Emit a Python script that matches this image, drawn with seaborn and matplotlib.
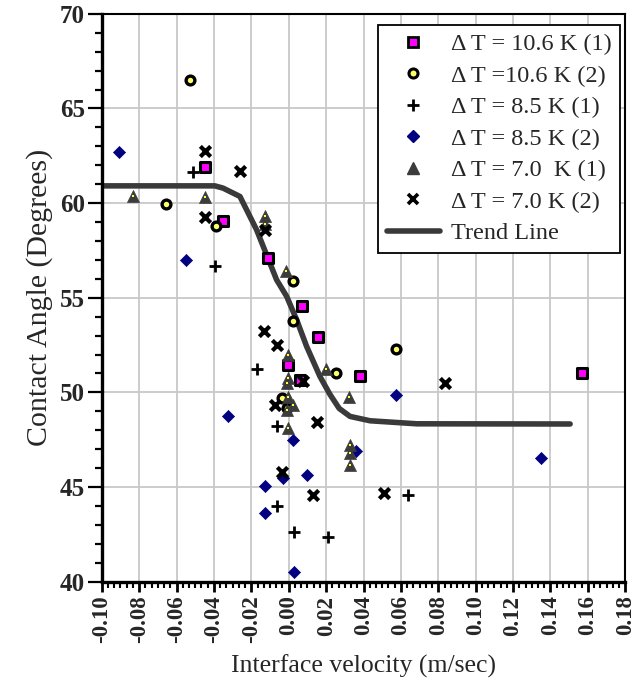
import matplotlib
matplotlib.use("Agg")
import matplotlib.pyplot as plt
import seaborn as sns
import pandas as pd
from matplotlib.ticker import MultipleLocator, FixedLocator
from matplotlib.lines import Line2D

# ---------------- data ----------------
sq_v = [-0.0449, -0.0351, -0.0111, 0.0069, 0.0155, -0.0003, 0.0381, 0.0060, 0.1568]
sq_a = [61.93, 59.03, 57.10, 54.54, 52.95, 51.46, 50.89, 50.67, 51.05]

ci_v = [-0.0529, -0.0654, -0.0391, 0.0024, 0.0024, 0.0253, 0.0574, -0.0038, -0.0011]
ci_a = [66.50, 59.95, 58.80, 55.86, 53.75, 51.05, 52.29, 49.70, 49.17]

pl_v = [-0.0514, -0.0395, -0.0172, -0.0065, -0.0065, 0.0030, 0.0210, 0.0636]
pl_a = [61.62, 56.69, 51.23, 48.20, 44.01, 42.60, 42.37, 44.59]

di_v = [-0.0907, -0.0547, -0.0324, -0.0127, -0.0127, -0.0033, 0.0024, 0.0096, 0.0030, 0.0360, 0.0574, 0.1350]
di_a = [62.69, 57.00, 48.73, 45.07, 43.62, 45.47, 47.50, 45.65, 40.49, 46.88, 49.87, 46.55]

tr_v = [-0.0832, -0.0449, -0.0125, -0.0125, -0.0015, -0.0003, 0.0199, -0.0003, -0.0011,
        0.0324, -0.0003, 0.0024, -0.0011, -0.0003, 0.0328, 0.0328, 0.0328]
tr_a = [60.39, 60.30, 59.30, 58.90, 56.40, 51.99, 51.23, 50.75, 50.49,
        49.78, 49.78, 49.35, 49.08, 48.11, 47.23, 46.79, 46.18]

xx_v = [-0.0449, -0.0258, -0.0449, -0.0125, -0.0133, -0.0065, 0.0074, -0.0074, 0.0149,
        -0.0038, 0.0131, 0.0511, 0.0836]
xx_a = [62.76, 61.72, 59.29, 58.60, 53.22, 52.51, 50.58, 49.35, 48.46,
        45.82, 44.59, 44.68, 50.52]

trend_v = [-0.100, -0.0395, -0.0351, -0.0261, -0.0172, -0.0065, -0.0011, 0.0042,
           0.0096, 0.0167, 0.0220, 0.0270, 0.0328, 0.0435, 0.0685, 0.1505]
trend_a = [60.91, 60.91, 60.79, 60.35, 58.59, 55.95, 55.07, 53.84,
           52.42, 50.84, 49.90, 49.15, 48.73, 48.50, 48.34, 48.33]

labels = ["\u0394 T = 10.6 K (1)", "\u0394 T =10.6 K (2)", "\u0394 T = 8.5 K (1)",
          "\u0394 T = 8.5 K (2)", "\u0394 T = 7.0  K (1)", "\u0394 T = 7.0 K (2)", "Trend Line"]

x_ticks = [-0.10, -0.08, -0.06, -0.04, -0.02, 0.00, 0.02, 0.04, 0.06, 0.08, 0.10, 0.12, 0.14, 0.16, 0.18]
x_tick_labels = ["-0.10", "-0.08", "-0.06", "-0.04", "-0.02", "0.00", "0.02", "0.04",
                 "0.06", "0.08", "0.10", "0.12", "0.14", "0.16", "0.18"]
y_ticks = [40, 45, 50, 55, 60, 65, 70]
y_tick_labels = ["40", "45", "50", "55", "60", "65", "70"]

# ---------------- style ----------------
sns.set_style("white")
plt.rcParams["font.family"] = ["Liberation Serif", "DejaVu Serif"]
plt.rcParams["axes.unicode_minus"] = False

fig = plt.figure(figsize=(6.4, 6.9), dpi=100)
ax = fig.add_axes([0.159, 0.157, 0.818, 0.823])

grid_c = "#c8c8c8"
for v in x_ticks:
    ax.axvline(v, color=grid_c, lw=1.3, zorder=0)
for a in y_ticks:
    ax.axhline(a, color=grid_c, lw=1.3, zorder=0)

sns.lineplot(x=trend_v, y=trend_a, ax=ax, sort=False, color="#3a3a3a", lw=4.0,
             zorder=2, legend=False)

series = [
    (sq_v, sq_a, dict(marker="s", s=48, facecolor="#ff00ff", edgecolor="black", linewidth=2.2)),
    (ci_v, ci_a, dict(marker="o", s=40, facecolor="#ffff66", edgecolor="black", linewidth=2.4)),
    (pl_v, pl_a, dict(marker="+", s=75, color="black", linewidth=2.0)),
    (di_v, di_a, dict(marker="D", s=38, facecolor="#000080", edgecolor="#000080", linewidth=0.5)),
    (tr_v, tr_a, dict(marker="^", s=75, facecolor="#3c3c3c", edgecolor="#3c3c3c", linewidth=0.5)),
    (xx_v, xx_a, dict(marker="x", s=55, color="black", linewidth=3.0)),
]
for (v, a, kw) in series:
    sns.scatterplot(x=v, y=a, ax=ax, zorder=3, legend=False, **kw)
# tiny yellow centre dots on the triangles
sns.scatterplot(x=tr_v, y=tr_a, ax=ax, marker="s", s=2, color="#ffff40", linewidth=0,
                zorder=4, legend=False)

ax.set_xlim(-0.10, 0.18)
ax.set_ylim(40, 70)
ax.xaxis.set_major_locator(FixedLocator(x_ticks))
ax.set_xticklabels(x_tick_labels, rotation=90, fontsize=16.5, fontweight="bold")
ax.xaxis.set_minor_locator(MultipleLocator(0.02 / 6))
ax.yaxis.set_major_locator(FixedLocator(y_ticks))
ax.set_yticklabels(y_tick_labels, fontsize=18, fontweight="bold")
ax.yaxis.set_minor_locator(MultipleLocator(1))

ax.tick_params(axis="x", which="major", direction="out", length=7, width=2, color="black", pad=3, bottom=True)
ax.tick_params(axis="x", which="minor", direction="out", length=4, width=1.5, color="black", bottom=True)
ax.tick_params(axis="y", which="major", direction="out", length=10, width=1.6, color="black", pad=2, left=True)
ax.tick_params(axis="y", which="minor", direction="out", length=5, width=1.6, color="black", left=True)

for side in ["left", "bottom"]:
    ax.spines[side].set_linewidth(2.4)
    ax.spines[side].set_color("black")
for side in ["top", "right"]:
    ax.spines[side].set_linewidth(1.5)
    ax.spines[side].set_color("black")

ax.set_xlabel("Interface velocity (m/sec)", fontsize=18.5, labelpad=8)
ax.set_ylabel("Contact Angle (Degrees)", fontsize=21.5, labelpad=5)

handles = [
    Line2D([], [], ls="", marker="s", ms=7, mfc="#ff00ff", mec="black", mew=2),
    Line2D([], [], ls="", marker="o", ms=6.5, mfc="#ffff66", mec="black", mew=2.2),
    Line2D([], [], ls="", marker="+", ms=9, color="black", mew=2),
    Line2D([], [], ls="", marker="D", ms=6, color="#000080"),
    Line2D([], [], ls="", marker="^", ms=8, color="#3c3c3c"),
    Line2D([], [], ls="", marker="x", ms=7, color="black", mew=2.6),
    Line2D([], [], color="#3a3a3a", lw=4.0),
]
leg = ax.legend(handles, labels, loc="upper right", bbox_to_anchor=(0.9904, 0.981),
                fontsize=17.5, frameon=True, fancybox=False, framealpha=1,
                edgecolor="black", handlelength=2.2, labelspacing=0.39,
                borderpad=0.35, handletextpad=0.45, markerfirst=True,
                borderaxespad=0.0)
leg.get_frame().set_linewidth(1.3)

fig.savefig("out.png", dpi=100)
